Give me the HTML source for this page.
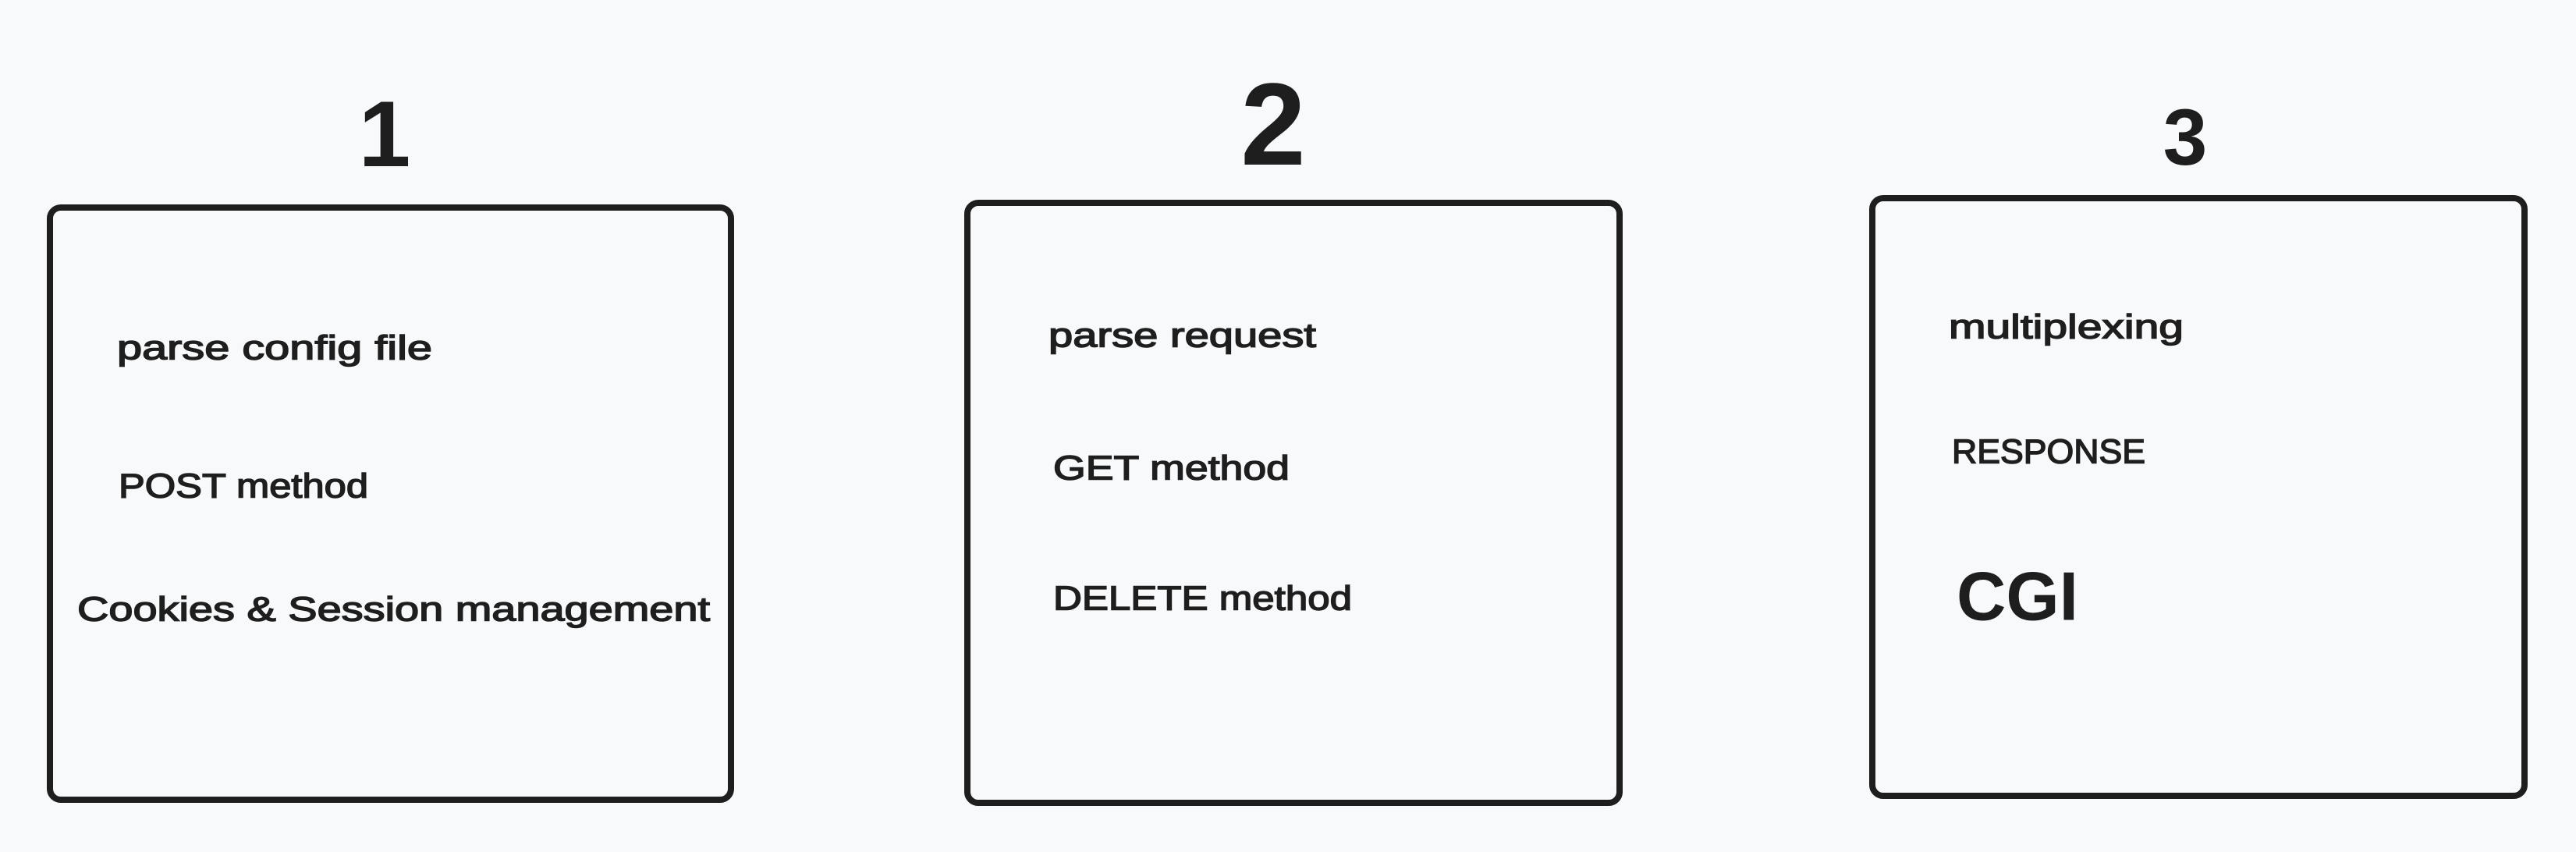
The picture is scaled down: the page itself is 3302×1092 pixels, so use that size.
<!DOCTYPE html>
<html><head><meta charset="utf-8"><style>
html,body{margin:0;padding:0;background:#f8f9fb;}
svg{display:block;}
text{font-family:"Liberation Sans",sans-serif;fill:#1e1e1e;}
</style></head><body>
<svg width="3302" height="1092" viewBox="0 0 3302 1092" xmlns="http://www.w3.org/2000/svg">
<rect width="3302" height="1092" fill="#f8f9fb"/>
<g fill="none" stroke="#1e1e1e" stroke-width="8">
<rect x="64" y="266" width="873" height="759" rx="14"/>
<rect x="1240" y="260" width="836" height="769" rx="14"/>
<rect x="2400" y="254" width="836" height="766" rx="14"/>
</g>
<g font-weight="bold" text-anchor="middle">
<text x="493" y="213" font-size="120">1</text>
<text x="1632" y="211" font-size="150">2</text>
<text x="2801" y="211" font-size="102">3</text>
</g>
<g font-size="44" dominant-baseline="central" stroke="#1e1e1e" stroke-width="1.5">
<text x="150" y="446" textLength="404" lengthAdjust="spacingAndGlyphs">parse config file</text>
<text x="152" y="623" textLength="320" lengthAdjust="spacingAndGlyphs">POST method</text>
<text x="99" y="781" textLength="811" lengthAdjust="spacingAndGlyphs">Cookies &amp; Session management</text>
<text x="1344" y="430" textLength="343" lengthAdjust="spacingAndGlyphs">parse request</text>
<text x="1350" y="600" textLength="303" lengthAdjust="spacingAndGlyphs">GET method</text>
<text x="1350" y="767" textLength="383" lengthAdjust="spacingAndGlyphs">DELETE method</text>
<text x="2498" y="419" textLength="301" lengthAdjust="spacingAndGlyphs">multiplexing</text>
<text x="2502" y="579" textLength="248" lengthAdjust="spacingAndGlyphs">RESPONSE</text>
<text x="2508" y="764" font-size="88" font-weight="bold" stroke-width="0" textLength="156" lengthAdjust="spacingAndGlyphs">CGI</text>
</g>
</svg>
</body></html>
